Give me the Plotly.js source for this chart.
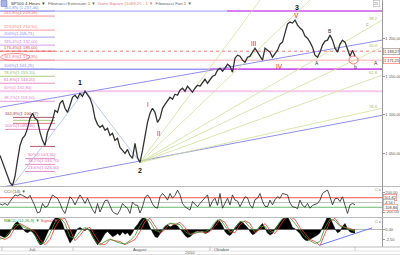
<!DOCTYPE html>
<html><head><meta charset="utf-8">
<script src="https://cdn.plot.ly/plotly-3.0.1.min.js"></script>
<style>html,body{margin:0;padding:0;background:#fff;}#chart{width:400px;height:255px;}</style>
</head><body><div id="chart"></div>
<script>
// ---------- DATA ----------
const closes = [1047.4,1038.3,1027.8,1020,1012,1008.3,1020,1040.9,1060.4,1069.6,
1073.5,1082.6,1095.7,1102.2,1095.7,1093,1077.4,1067,1060.4,1077.4,
1086.5,1093,1106.1,1103.5,1115.2,1119.1,1108.7,1103.5,1112.6,1123,
1125.7,1121.7,1128.2,1124.4,1130.9,1125.7,1121.7,1112.6,1095.7,1087.8,
1083.9,1086.5,1080,1082.6,1073.5,1076.1,1067,1069.6,1057.8,1053.9,
1050,1055.2,1047.4,1043.5,1063,1044.8,1038.3,1053.9,1073.5,1090.4,
1102.2,1108.7,1103.5,1090.4,1095.7,1108.7,1113.9,1119.1,1123,1120.4,
1127,1125.7,1132.2,1134.8,1130.9,1137.4,1133.5,1129.6,1134.8,1138.7,
1137.4,1142.6,1146.5,1141.3,1145.2,1150.4,1151.7,1158.3,1160.9,1157,
1160.9,1166.1,1163.5,1155.7,1173.9,1177.8,1176.5,1171.3,1168.7,1175.2,
1176.5,1181.7,1187,1181.7,1176.5,1171.3,1187,1184.3,1181.7,1175.2,
1179.1,1184.3,1192.2,1194.8,1206.5,1218.3,1220.9,1219.6,1223.5,1217,
1213,1210.4,1202.6,1200,1194.8,1188.3,1177.8,1175.2,1181.7,1190.9,
1196.1,1197.4,1203.9,1197.4,1187,1181.7,1192.2,1197.4,1194.8,1184.3,
1176.5,1184.3,1176.5];

const cci = [-30,-50,-20,-60,20,80,160,140,170,150,
120,90,150,40,-80,-220,-200,-20,-100,-80,
50,160,120,90,-20,-150,-230,-60,120,60,
-50,60,160,80,-20,90,-40,-150,-230,-20,
-200,-60,40,50,-90,-190,-230,-250,-160,-20,
-80,-120,-230,10,-50,-60,-220,-90,100,160,
90,-30,-100,-120,120,190,130,50,190,90,
150,260,160,-20,-90,-120,-160,20,-40,-90,
-20,50,100,160,-90,30,90,-60,190,-120,
-30,90,-50,160,50,30,-90,20,120,100,
-50,-120,60,90,190,20,-80,-90,50,-50,
60,120,90,190,170,160,-10,-90,-100,-130,
50,-60,-100,-20,-120,-60,-40,-20,50,190,
230,260,120,-50,80,90,20,120,-60,-230,
-50,-20,-50];

const macdHist = [-1.5,-1.8,-2.0,-1.6,-0.8,0.5,1.5,2.0,1.2,0.3,
-0.5,-0.8,-0.4,-0.6,-1.5,-2.8,-3.8,-3.6,-2.2,-0.8,
0.8,2.0,2.8,3.0,2.6,1.5,-0.5,-2.0,-3.4,-2.5,
-1.0,0.2,0.5,0.2,-0.3,0.3,-0.5,-1.8,-3.0,-3.8,
-3.2,-2.0,-1.0,-0.5,-1.2,-1.8,-1.5,-1.0,-1.5,-0.6,
-1.2,-0.8,-1.6,-0.8,0.5,1.2,2.2,2.9,3.0,2.0,
0.5,-0.8,-1.8,-2.0,-1.2,-0.2,0.8,1.2,0.6,0.9,
1.3,0.9,0.2,-0.6,-1.5,-2.0,-1.8,-1.2,-0.6,-0.4,
-0.6,-0.4,-1.0,-0.8,-0.3,0.5,1.5,2.4,2.0,1.0,
-0.5,-1.2,-1.5,-0.8,0.5,1.4,2.0,1.8,1.2,0.5,
-0.5,-1.3,-1.0,-0.3,0.8,1.5,0.3,-0.9,-1.4,-1.0,
0.2,1.0,1.8,2.6,3.0,3.2,2.0,0.5,0.2,-0.3,
-1.0,-2.0,-2.6,-2.8,-2.5,-2.2,-1.8,-1.4,-0.8,0.6,
2.2,3.2,3.0,1.5,0.2,-0.8,-0.5,0.8,1.5,0.2,
-0.6,-0.8,-0.9];

// sampled every second bar
const macdRed = [-2.0,-2.5,-1.8,0.5,1.5,0.8,0.2,-0.5,-2.5,-3.8,
-2.5,0.5,2.5,2.8,0.0,-2.8,-1.5,0.2,0.5,-1.5,
-3.5,-3.8,-2.5,-2.8,-3.0,-3.8,-3.2,-2.5,-0.5,2.0,
2.8,1.0,-1.0,0.0,1.5,1.2,1.8,0.5,-1.2,-1.0,
-0.5,-0.8,-0.5,0.8,2.5,1.8,-0.5,-0.8,1.2,2.2,
1.5,-0.8,0.0,1.5,-0.2,-1.0,1.0,2.8,3.2,2.5,
0.5,-1.0,-2.5,-3.0,-4.0,-1.0,2.0,2.8,1.0,0.5,
0.3,-0.3];
const macdGreen = [-2.4,-2.0,-0.5,1.2,1.2,0.4,0.0,-1.5,-3.5,-3.2,
-1.0,1.8,3.0,1.5,-1.8,-2.2,-0.5,0.5,-0.4,-2.8,
-3.9,-3.0,-2.4,-3.0,-3.4,-3.6,-2.8,-1.5,1.0,2.8,
2.0,-0.2,-0.6,0.8,1.6,1.4,1.2,-0.5,-1.3,-0.7,
-0.6,-0.6,0.1,1.8,2.6,0.8,-0.8,0.2,1.9,2.0,
0.5,-0.5,0.8,0.8,-0.8,-0.3,2.0,3.2,3.0,1.5,
-0.3,-1.8,-2.8,-3.5,-3.0,0.5,2.6,2.2,0.8,0.6,
0.0,-0.5];

const priceTicks = [1050,1100,1150,1200];
const priceTickText = ['1 050,00','1 100,00','1 150,00','1 200,00'];
const cciTicks = [200,-200];
const cciTickText = ['200,00','-200,00'];
const cciLevels = [100,0,-100];
const cciLevelText = ['101,82','-4,54','-108,86'];
const macdTicks = [0,-2.5];
const macdTickText = ['0,00','-2,50'];

const monthLabels = ['Juli','August','Oktober'];
const yearLabels = ['2010'];

// Fibonacci extension levels (upper left)
const fibExtLevels = [1235.2,1228.7,1210.4,1201.3,1190.9,1183.0,1171.3,1159.6,1150.4,1141.3,1130.9,1117.8];
const fibExtText = ['161,8% (1 237,46)','261,8%(1 229,28)','223,6%(1 214,50)','200%(1 205,71)','185,4%(1 192,00)','176,4%(1 185,00)','161,8%(1 172,95)','100%(1 161,25)','78,6%(1 153,10)','61,8%(1 144,20)','50%(1 132,80)','38,2%(1 119,50)'];
// second Fibonacci set (lower left)
const fibRetLevels = [1096.9,1093.0,1089.1,1081.3,1059.1,1043.5,1035.7,1026.5,1006.9];
const fibRetText = ['161,8%(1 100,47)','','','100%(1 081,30)','','50%(1 043,50)','38,2%(1 035,70)','23,6%(1 026,50)','0%(1 010,91)'];

// Fibonacci fan (from wave 2 low), end points
const fanStart = [56, 1038.3];
const fanEnds = [[104,1249.6],[124,1249.6],[152.8,1223.5],[152.8,1188.3],[152.8,1151.7],[152.8,1108.7]];
const fanText = ['38.2','50.0','61.8','78.6'];
const fanTextPrices = [1226,1190,1155,1111];

// trend lines [x0,p0,x1,p1]
const trendLines = [[0,1110,152.8,1197.4],[0,1005.7,152.8,1099.6],[4.8,1007,34,1132.2],[34,1132.2,56,1038.3]];
const macdTrend = [128,-3.9,148.8,0.4];

// wave labels
const waveText = ['1','2','3','I','II','III','IV','V','A','B','b','c','A'];
const waveBar  = [32,56,118.8,59.2,63.6,101.6,111.6,118.4,126.8,132,142,146.8,150.4];
const wavePrice= [1142.6,1027.8,1240.4,1113.9,1076.1,1193.5,1163.5,1230,1167.4,1209.1,1162.2,1218.3,1167.4];

const boxPrices = [1183.0,1171.3];
const boxText = ['1 183,27','1 171,25'];

// ---------- DRAW ----------
const PW=382, PH=247;
const X = p => p/PW;
const Y = p => (PH-p)/PH;
const idx = closes.map((_,i)=>i);
const idx2 = macdRed.map((_,j)=>2*j);
const FONT = 'Liberation Sans, Arial, sans-serif';

const traces = [
 {x:idx,y:closes,type:'scatter',mode:'lines',line:{color:'#333',width:1.3},xaxis:'x',yaxis:'y',hoverinfo:'skip'},
 {x:idx,y:cci,type:'scatter',mode:'lines',line:{color:'#222',width:0.8},xaxis:'x',yaxis:'y2',hoverinfo:'skip'},
 {x:idx,y:macdHist,type:'scatter',mode:'lines',fill:'tozeroy',fillcolor:'#000',line:{color:'#000',width:0.5},xaxis:'x',yaxis:'y3',hoverinfo:'skip'},
 {x:idx2,y:macdRed,type:'scatter',mode:'lines',line:{color:'#ff3030',width:0.8},xaxis:'x',yaxis:'y3',hoverinfo:'skip'},
 {x:idx2,y:macdGreen,type:'scatter',mode:'lines',line:{color:'#2ca02c',width:0.8},xaxis:'x',yaxis:'y3',hoverinfo:'skip'}
];

const shapes = [];
const ann = [];
function seg(x0,y0,x1,y1,color,width,dash,yref){shapes.push({type:'line',xref:'x',yref:yref||'y',x0:x0,y0:y0,x1:x1,y1:y1,line:{color:color,width:width||0.8,dash:dash||'solid'},layer:'below'});}
function pline(x0,y0,x1,y1,color,width){shapes.push({type:'line',xref:'paper',yref:'paper',x0:X(x0),y0:Y(y0),x1:X(x1),y1:Y(y1),line:{color:color,width:width||1}});}
function txt(x,y,t,size,color,anchor,extra){ann.push(Object.assign({xref:'paper',yref:'paper',x:X(x),y:Y(y),text:t,showarrow:false,xanchor:anchor||'left',yanchor:'middle',font:{size:size,color:color,family:FONT}},extra||{}));}

// Fibonacci extension lines
const extColors = ['#8a8af0','#ff6a6a','#ff7f7f','#8a8af0','#d080e0','#d05050','#f07090','#8a8af0','#90c060','#e070c0','#e080d0','#e080d0'];
const BL = 22;
fibExtLevels.forEach((p,i)=>{
  seg(0,p,BL,p,extColors[i],0.8);
  ann.push({xref:'x',yref:'y',x:0.8,y:p,text:fibExtText[i],showarrow:false,xanchor:'left',yanchor:'bottom',yshift:-0.5,font:{size:4.2,color:extColors[i],family:FONT}});
});
seg(0,fibExtLevels[0],90.8,fibExtLevels[0],'#9a9af0',1);
seg(90.8,fibExtLevels[0],152.8,fibExtLevels[0],'#cc55ee',1.4);
seg(0,fibExtLevels[5],152.8,fibExtLevels[5],'#ff5050',0.8,'dot');
seg(0,fibExtLevels[6],152.8,fibExtLevels[6],'#ff9a9a',0.8);
seg(0,fibExtLevels[7],84,fibExtLevels[7],'#9a9af0',1.4);
seg(84,fibExtLevels[7],152.8,fibExtLevels[7],'#cc55ee',1.8);
seg(0,fibExtLevels[10],152.8,fibExtLevels[10],'#f6c8ee',1.8);

// lower Fibonacci set
const retColors = ['#a03040','#90c060','#e05060','#e070c0','#a03040','#e070c0','#e070c0','#e070c0','#ff6060'];
const retX0 = [5.2,5.2,5.2,2,12,10,10,10,10];
const retX1 = [22,22,22,22,22,22,22,22,26];
fibRetLevels.forEach((p,i)=>{
  seg(retX0[i],p,retX1[i],p,retColors[i],0.8);
  if(fibRetText[i]) ann.push({xref:'x',yref:'y',x:(i===0||i===3)?1:10.5,y:p,text:fibRetText[i],showarrow:false,xanchor:'left',yanchor:'bottom',yshift:-0.5,font:{size:4.2,color:retColors[i],family:FONT}});
});

// trend lines
const tlColors = ['#8f8ff0','#8f8ff0','#a8b8f0','#a8b8f0'];
trendLines.forEach((t,i)=>seg(t[0],t[1],t[2],t[3],tlColors[i],i<2?1:0.8));
// fan
fanEnds.forEach(e=>seg(fanStart[0],fanStart[1],e[0],e[1],'#cfe09a',0.8));
fanText.forEach((t,i)=>ann.push({xref:'x',yref:'y',x:152,y:fanTextPrices[i],text:t,showarrow:false,xanchor:'right',yanchor:'middle',font:{size:4.2,color:'#a8b860',family:FONT}}));
// MACD trend
seg(macdTrend[0],macdTrend[1],macdTrend[2],macdTrend[3],'#6b7cf0',1,'solid','y3');
shapes[shapes.length-1].layer='above';

// CCI reference lines
seg(0,100,152.8,100,'#ff5050',1,'solid','y2');
seg(0,0,152.8,0,'#999',0.6,'solid','y2');
seg(0,-100,152.8,-100,'#44aa44',0.8,'solid','y2');
seg(0,0,152.8,0,'#888',0.6,'solid','y3');

// wave labels
const waveStyle = t => {
  if(t==='1'||t==='2'||t==='3') return {size:7,color:'#111',bold:true};
  if(/^[IV]+$/.test(t)) return {size:6.5,color:'#ee2020',bold:false};
  if(t==='c') return {size:5,color:'#999',bold:false};
  return {size:5,color:'#333',bold:false};
};
waveText.forEach((t,i)=>{
  const s = waveStyle(t);
  ann.push({xref:'x',yref:'y',x:waveBar[i],y:wavePrice[i],text:s.bold?'<b>'+t+'</b>':t,showarrow:false,xanchor:'center',yanchor:'middle',font:{size:s.size,color:s.color,family:FONT}});
});

// red circles
shapes.push({type:'circle',xref:'paper',yref:'paper',x0:X(349),x1:X(358),y0:Y(64),y1:Y(56),line:{color:'#ff5050',width:0.8}});
shapes.push({type:'circle',xref:'paper',yref:'paper',x0:X(0.5),x1:X(30),y0:Y(60.5),y1:Y(53.5),line:{color:'#ff6060',width:0.7}});

// right boxed price labels
const boxColors = ['#888','#ff6060'];
boxPrices.forEach((p,i)=>ann.push({xref:'paper',yref:'y',x:1.003,y:p,text:boxText[i],showarrow:false,xanchor:'left',yanchor:'middle',font:{size:3.9,color:'#444',family:FONT},bordercolor:boxColors[i],borderwidth:0.6,borderpad:0.4,bgcolor:'#fff8f0'}));
const cciBoxColors = ['#ff6060','#999','#ff8060'];
cciLevels.forEach((v,i)=>ann.push({xref:'paper',yref:'y2',x:1.003,y:v,text:cciLevelText[i],showarrow:false,xanchor:'left',yanchor:'middle',font:{size:3.9,color:'#444',family:FONT},bordercolor:cciBoxColors[i],borderwidth:0.6,borderpad:0.3,bgcolor:'#fff'}));

// panel borders
pline(0,186.5,400,186.5,'#aaa',0.8);
pline(0,217.5,400,217.5,'#aaa',0.8);
pline(0,247,400,247,'#aaa',0.8);
pline(0,251,400,251,'#ccc',0.6);
pline(0,254.5,400,254.5,'#ccc',0.6);
[2,73,210,355].forEach(v=>pline(v,247,v,251,'#aaa',0.6));

// top legend & icons
shapes.push({type:'rect',xref:'paper',yref:'paper',x0:X(1),x1:X(7),y0:Y(6.5),y1:Y(0.5),fillcolor:'#a8b4e8',line:{color:'#6070c0',width:0.5}});
txt(9,3.6,'<span style="color:#334">SP500 4 Hours ▼</span>  Fibonacci Extension 1 ▼  <span style="color:#e08080">Gann Square (1069,25 - 1 ▼</span>  Fibonacci Fan 1 ▼',4.3,'#666');
ann.push({xref:'paper',yref:'paper',x:X(376),y:Y(3),text:'25',showarrow:false,xanchor:'center',yanchor:'middle',font:{size:4,color:'#777',family:FONT},bordercolor:'#aaa',borderwidth:0.5,borderpad:0.3});
txt(2,191,'CCI (14) ▼',4.3,'#555');
txt(2,220.5,'<span style="color:#2a9a2a">MACD (12,26,9) ▼</span> <span style="color:#e04040">Signal ▼</span>',4.2,'#555');
txt(373,190,'□ x',4.2,'#777','left');
txt(373,221,'□ x',4.2,'#777','left');

// bottom axis labels
txt(32,249,monthLabels[0],4.3,'#555','center');
txt(140,249,monthLabels[1],4.3,'#555','center');
txt(212,249,monthLabels[2],4.3,'#555','left');
txt(190,252.8,yearLabels[0],4.3,'#555','center');

const axisCommon = {showgrid:false,zeroline:false,side:'right',ticks:'outside',ticklen:1.5,tickcolor:'#999',showline:true,linecolor:'#999',linewidth:1,tickfont:{size:4,color:'#555',family:FONT},fixedrange:true,automargin:false};
const layout = {
  width:400,height:255,margin:{l:0,r:18,t:0,b:8,pad:0},
  paper_bgcolor:'#fff',plot_bgcolor:'#fff',showlegend:false,
  xaxis:{range:[0,152.8],showgrid:false,zeroline:false,showticklabels:false,ticks:'',showline:false,anchor:'y3',fixedrange:true},
  yaxis:Object.assign({},axisCommon,{domain:[(PH-186.5)/PH,1],range:[1006.96,1249.6],tickvals:priceTicks,ticktext:priceTickText}),
  yaxis2:Object.assign({},axisCommon,{domain:[(PH-217)/PH,(PH-187)/PH],range:[-305,326],tickvals:cciTicks,ticktext:cciTickText}),
  yaxis3:Object.assign({},axisCommon,{domain:[(PH-246.5)/PH,(PH-218)/PH],range:[-4.25,2.875],tickvals:macdTicks,ticktext:macdTickText}),
  shapes:shapes,annotations:ann
};
Plotly.newPlot('chart',traces,layout,{staticPlot:true,displayModeBar:false});
</script></body></html>
